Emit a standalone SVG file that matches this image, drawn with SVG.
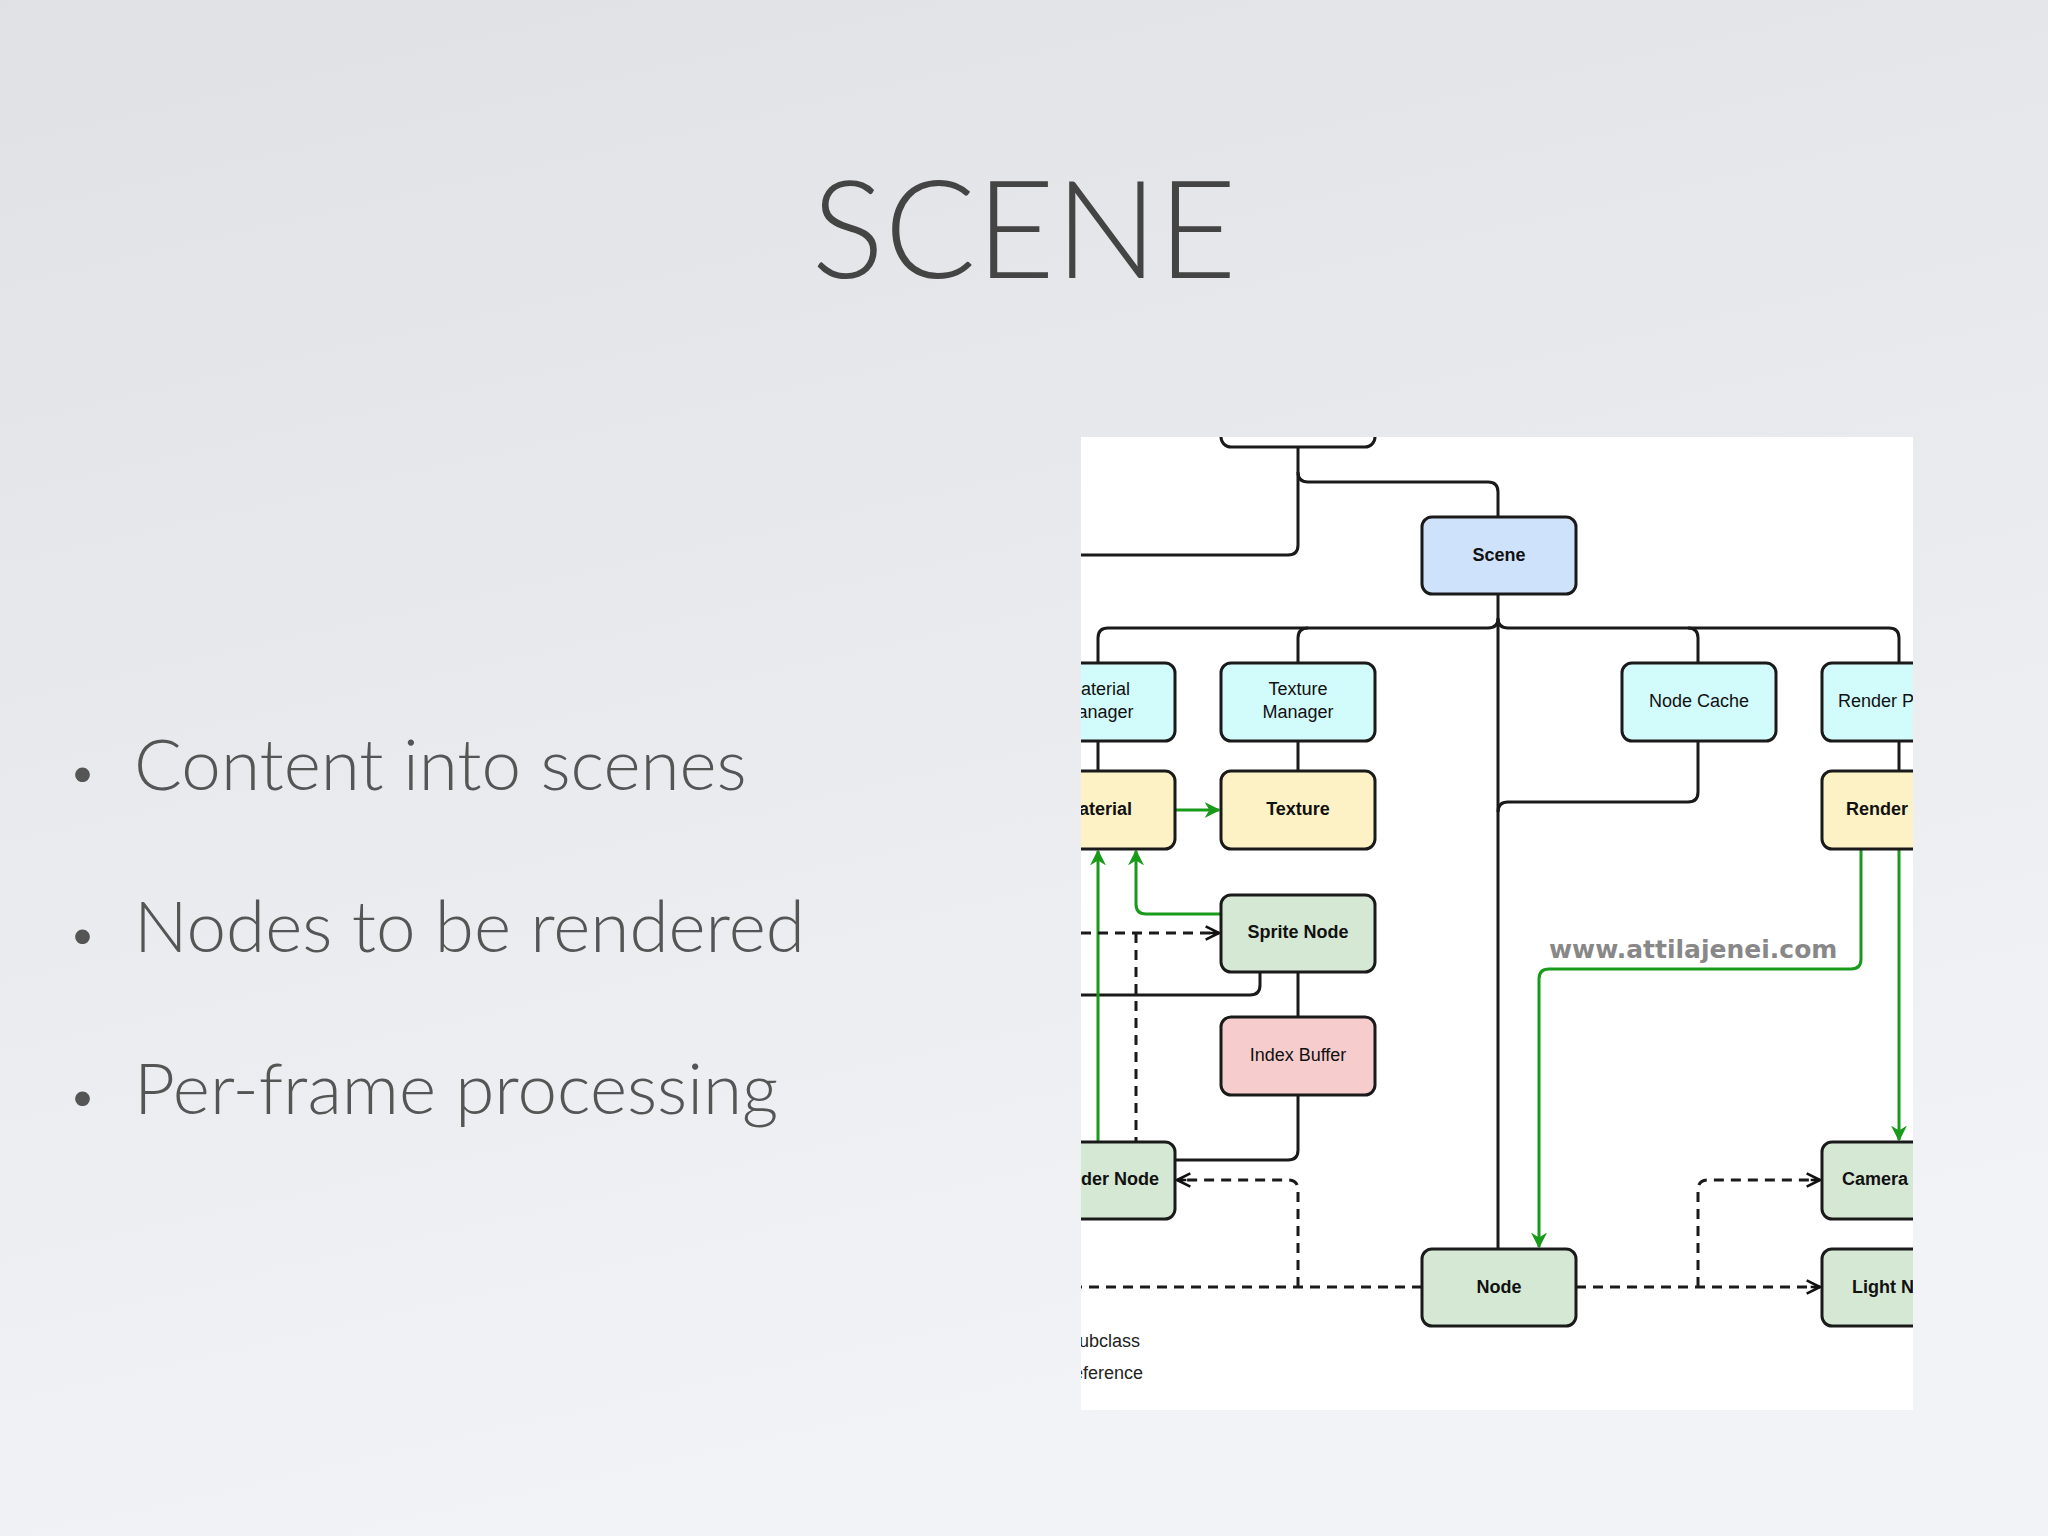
<svg xmlns="http://www.w3.org/2000/svg" width="2048" height="1536" viewBox="0 0 2048 1536">
<defs>
<linearGradient id="bg" x1="0" y1="0" x2="0.3" y2="1"><stop offset="0" stop-color="#dfe1e5"/><stop offset="1" stop-color="#f2f3f6"/></linearGradient>
<clipPath id="panel"><rect x="1081" y="437" width="832" height="973"/></clipPath>
<marker id="ga" viewBox="0 0 10 10" refX="9" refY="5" markerWidth="16" markerHeight="16" orient="auto" markerUnits="userSpaceOnUse"><path d="M0,0L10,5L0,10L3,5z" fill="#1a9a1a"/></marker>
<marker id="oa" viewBox="0 0 12 12" refX="11" refY="6" markerWidth="16" markerHeight="16" orient="auto" markerUnits="userSpaceOnUse"><path d="M1,1L11,6L1,11M4,6L11,6" fill="none" stroke="#111" stroke-width="2"/></marker>
<style>
.n rect{stroke:#1a1a1a;stroke-width:3;}
.n text{font-family:"Liberation Sans",Arial,sans-serif;font-size:18px;text-anchor:middle;fill:#111;}
.b{font-weight:bold;}
.blue{fill:#cfe2fb}.cyan{fill:#d2fbfb}.yel{fill:#fdf2c6}.grn{fill:#d5e8d4}.pink{fill:#f6cccc}
.s{fill:none;stroke:#1a1a1a;stroke-width:3;}
.d{fill:none;stroke:#1a1a1a;stroke-width:3;stroke-dasharray:10 7;}
.g{fill:none;stroke:#1a9a1a;stroke-width:3;}
.bul{font-family:"Lato","Open Sans",sans-serif;font-weight:300;font-size:71px;fill:#555;}
</style>
</defs>
<rect width="2048" height="1536" fill="url(#bg)"/>
<text x="1024" y="278" font-family="Lato,'Open Sans',sans-serif" font-weight="300" font-size="136" fill="#444" text-anchor="middle">SCENE</text>
<g class="bul">
<text x="68" y="790" font-size="50">•</text><text x="134" y="790">Content into scenes</text>
<text x="68" y="952" font-size="50">•</text><text x="134" y="952">Nodes to be rendered</text>
<text x="68" y="1114" font-size="50">•</text><text x="134" y="1114">Per-frame processing</text>
</g>
<rect x="1081" y="437" width="832" height="973" fill="#fff"/>
<g clip-path="url(#panel)">
<g id="connectors">
<path class="s" d="M1298,447V545Q1298,555 1288,555H1081"/>
<path class="s" d="M1298,472Q1298,482 1308,482H1488Q1498,482 1498,492V517"/>
<path class="s" d="M1498,594V1249"/>
<path class="s" d="M1098,663V638Q1098,628 1108,628H1488Q1498,628 1498,618Q1498,628 1508,628H1889Q1899,628 1899,638V663"/>
<path class="s" d="M1298,663V638Q1298,628 1308,628"/>
<path class="s" d="M1698,663V638Q1698,628 1688,628"/>
<path class="s" d="M1698,741V792Q1698,802 1688,802H1508Q1498,802 1498,812"/>
<path class="s" d="M1098,741V771M1298,741V771M1899,741V771"/>
<path class="s" d="M1298,972V1017M1260,972V985Q1260,995 1250,995H1081"/>
<path class="s" d="M1298,1095V1150Q1298,1160 1288,1160H1175"/>
<path class="g" d="M1175,810H1219" marker-end="url(#ga)"/>
<path class="g" d="M1098,1142V851" marker-end="url(#ga)"/>
<path class="g" d="M1221,914H1146Q1136,914 1136,904V851" marker-end="url(#ga)"/>
<path class="g" d="M1861,849V959Q1861,969 1851,969H1549Q1539,969 1539,979V1247" marker-end="url(#ga)"/>
<path class="g" d="M1899,849V1140" marker-end="url(#ga)"/>
<path class="d" d="M1081,933H1219" marker-end="url(#oa)"/>
<path class="d" d="M1136,933V1142"/>
<path class="d" d="M1422,1287H1081"/>
<path class="d" d="M1298,1287V1190Q1298,1180 1288,1180H1177" marker-end="url(#oa)"/>
<path class="d" d="M1576,1287H1820" marker-end="url(#oa)"/>
<path class="d" d="M1698,1287V1190Q1698,1180 1708,1180H1820" marker-end="url(#oa)"/>
</g>
<g id="top" class="n"><rect x="1221" y="400" width="154" height="47" rx="10" fill="#fff"/></g>
<g id="scene" class="n"><rect class="blue" x="1422" y="517" width="154" height="77" rx="10"/><text class="b" x="1499" y="561">Scene</text></g>
<g id="matman" class="n"><rect class="cyan" x="1021" y="663" width="154" height="78" rx="10"/><text x="1098" y="695">Material</text><text x="1098" y="718">Manager</text></g>
<g id="texman" class="n"><rect class="cyan" x="1221" y="663" width="154" height="78" rx="10"/><text x="1298" y="695">Texture</text><text x="1298" y="718">Manager</text></g>
<g id="nodecache" class="n"><rect class="cyan" x="1622" y="663" width="154" height="78" rx="10"/><text x="1699" y="707">Node Cache</text></g>
<g id="renderpipe" class="n"><rect class="cyan" x="1822" y="663" width="154" height="78" rx="10"/><text x="1902" y="707">Render Pipeline</text></g>
<g id="material" class="n"><rect class="yel" x="1021" y="771" width="154" height="78" rx="10"/><text class="b" x="1098" y="815">Material</text></g>
<g id="texture" class="n"><rect class="yel" x="1221" y="771" width="154" height="78" rx="10"/><text class="b" x="1298" y="815">Texture</text></g>
<g id="render" class="n"><rect class="yel" x="1822" y="771" width="154" height="78" rx="10"/><text class="b" x="1877" y="815">Render</text></g>
<g id="sprite" class="n"><rect class="grn" x="1221" y="895" width="154" height="77" rx="10"/><text class="b" x="1298" y="938">Sprite Node</text></g>
<g id="index" class="n"><rect class="pink" x="1221" y="1017" width="154" height="78" rx="10"/><text x="1298" y="1061">Index Buffer</text></g>
<g id="rendernode" class="n"><rect class="grn" x="1021" y="1142" width="154" height="77" rx="10"/><text class="b" x="1103" y="1185">Render Node</text></g>
<g id="node" class="n"><rect class="grn" x="1422" y="1249" width="154" height="77" rx="10"/><text class="b" x="1499" y="1293">Node</text></g>
<g id="camera" class="n"><rect class="grn" x="1822" y="1142" width="154" height="77" rx="10"/><text class="b" x="1875" y="1185">Camera</text></g>
<g id="light" class="n"><rect class="grn" x="1822" y="1249" width="154" height="77" rx="10"/><text class="b" x="1899" y="1293">Light Node</text></g>
<text x="1549" y="958" font-family="'DejaVu Sans',sans-serif" font-weight="bold" font-size="25" fill="#888">www.attilajenei.com</text>
<g font-family="'Liberation Sans',Arial,sans-serif" font-size="18" fill="#222">
<text x="1067" y="1347">Subclass</text><text x="1060" y="1379">Reference</text>
</g>
</g>
</svg>
